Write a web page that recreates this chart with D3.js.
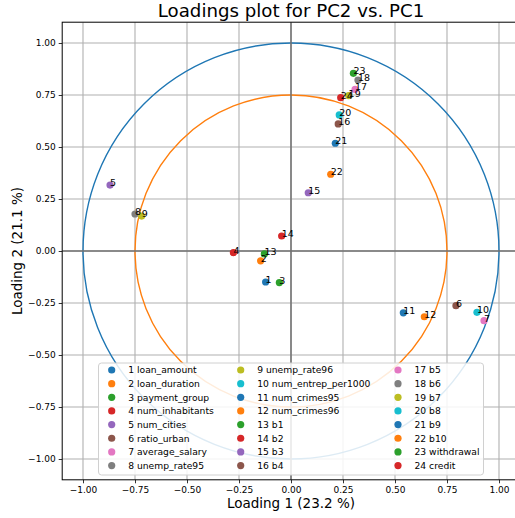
<!DOCTYPE html>
<html>
<head>
<meta charset="utf-8">
<script src="https://cdn.jsdelivr.net/npm/d3@7/dist/d3.min.js"></script>
<style>
  html, body { margin: 0; padding: 0; background: #fff; }
  svg { display: block; font-family: "DejaVu Sans", sans-serif; }
</style>
</head>
<body>
<svg id="chart" width="515" height="518"></svg>
<script>
// Variable names (legend order) and their loadings on PC1 / PC2
const variables = [
  "loan_amount", "loan_duration", "payment_group", "num_inhabitants",
  "num_cities", "ratio_urban", "average_salary", "unemp_rate95",
  "unemp_rate96", "num_entrep_per1000", "num_crimes95", "num_crimes96",
  "b1", "b2", "b3", "b4", "b5", "b6", "b7", "b8", "b9", "b10",
  "withdrawal", "credit"
];
const loading1 = [
  -0.122, -0.146, -0.056, -0.277, -0.870, 0.793, 0.928, -0.750,
  -0.718, 0.894, 0.540, 0.641, -0.128, -0.045, 0.083, 0.227,
  0.308, 0.322, 0.277, 0.232, 0.213, 0.191, 0.300, 0.239
];
const loading2 = [
  -0.149, -0.047, -0.152, -0.008, 0.317, -0.263, -0.335, 0.178,
  0.168, -0.295, -0.297, -0.316, -0.014, 0.072, 0.280, 0.611,
  0.777, 0.822, 0.747, 0.654, 0.518, 0.369, 0.854, 0.737
];
const circleRadii = [1.0, 0.75];
const circleColors = ["#1f77b4", "#ff7f0e"];
const tickValues = [-1, -0.75, -0.5, -0.25, 0, 0.25, 0.5, 0.75, 1];
const explained = { pc1: 23.2, pc2: 21.1 };

const palette = ["#1f77b4", "#ff7f0e", "#2ca02c", "#d62728", "#9467bd",
                 "#8c564b", "#e377c2", "#7f7f7f", "#bcbd22", "#17becf"];

const points = variables.map((name, i) => ({
  id: i + 1, name, x: loading1[i], y: loading2[i], color: palette[i % 10]
}));

const svg = d3.select("#chart");
const plotLeft = 62.2, plotTop = 22.2, plotW = 457.6, plotH = 457.6;

const x = d3.scaleLinear().domain([-1.1, 1.1]).range([plotLeft, plotLeft + plotW]);
const y = d3.scaleLinear().domain([-1.1, 1.1]).range([plotTop + plotH, plotTop]);

svg.append("defs").append("clipPath").attr("id", "plotclip")
  .append("rect").attr("x", plotLeft).attr("y", plotTop).attr("width", plotW).attr("height", plotH);

const fmt = v => d3.format(".2f")(v).replace("-", "\u2212");

// Grid
const grid = svg.append("g").attr("clip-path", "url(#plotclip)");
grid.selectAll("line.gx").data(tickValues).join("line")
  .attr("x1", d => x(d)).attr("x2", d => x(d))
  .attr("y1", plotTop).attr("y2", plotTop + plotH)
  .attr("stroke", "#b0b0b0").attr("stroke-width", 1.1);
grid.selectAll("line.gy").data(tickValues).join("line")
  .attr("y1", d => y(d)).attr("y2", d => y(d))
  .attr("x1", plotLeft).attr("x2", plotLeft + plotW)
  .attr("stroke", "#b0b0b0").attr("stroke-width", 1.1);

const plot = svg.append("g").attr("clip-path", "url(#plotclip)");

// Reference circles
plot.selectAll("circle.ref").data(circleRadii).join("circle")
  .attr("cx", x(0)).attr("cy", y(0))
  .attr("r", d => x(d) - x(0))
  .attr("fill", "none")
  .attr("stroke", (d, i) => circleColors[i])
  .attr("stroke-width", 1.4);

// Zero lines
plot.append("line").attr("x1", plotLeft).attr("x2", plotLeft + plotW)
  .attr("y1", y(0)).attr("y2", y(0))
  .attr("stroke", "#707070").attr("stroke-width", 1.5);
plot.append("line").attr("y1", plotTop).attr("y2", plotTop + plotH)
  .attr("x1", x(0)).attr("x2", x(0))
  .attr("stroke", "#707070").attr("stroke-width", 1.5);

// Loadings
plot.selectAll("circle.pt").data(points).join("circle")
  .attr("cx", d => x(d.x)).attr("cy", d => y(d.y))
  .attr("r", 3.6).attr("fill", d => d.color);

plot.selectAll("text.pt").data(points).join("text")
  .attr("x", d => x(d.x)).attr("y", d => y(d.y) + 1)
  .attr("font-size", 9.5).attr("fill", "#000")
  .text(d => d.id);

// Legend
const legX = 98.5, legY = 363, legW = 385, legH = 112;
const leg = svg.append("g").attr("clip-path", "url(#plotclip)");
leg.append("rect").attr("x", legX).attr("y", legY).attr("width", legW).attr("height", legH)
  .attr("rx", 3).attr("fill", "#fff").attr("fill-opacity", 0.85)
  .attr("stroke", "#d0d0d0").attr("stroke-width", 1);
const colX = [111.7, 240.7, 398];
const rowH = 13.65;
leg.selectAll("g.item").data(points).join("g")
  .attr("transform", (d, i) => `translate(${colX[Math.floor(i / 8)]},${370 + (i % 8) * rowH})`)
  .each(function (d) {
    const g = d3.select(this);
    g.append("circle").attr("r", 3.6).attr("fill", d.color);
    g.append("text").attr("x", 16.5).attr("y", 3.3)
      .attr("font-size", 9.2).attr("fill", "#000")
      .text(`${d.id} ${d.name}`);
  });

// Axes
const xAxis = d3.axisBottom(x).tickValues(tickValues).tickFormat(fmt).tickSizeOuter(0).tickSize(3.5).tickPadding(3);
const yAxis = d3.axisLeft(y).tickValues(tickValues).tickFormat(fmt).tickSizeOuter(0).tickSize(3.5).tickPadding(3);
const gx = svg.append("g").attr("transform", `translate(0,${plotTop + plotH})`).call(xAxis);
const gy = svg.append("g").attr("transform", `translate(${plotLeft},0)`).call(yAxis);
[gx, gy].forEach(g => {
  g.selectAll("text").attr("font-size", 9).attr("font-family", "DejaVu Sans").attr("fill", "#000");
  g.selectAll(".tick line").attr("stroke", "#000").attr("stroke-width", 0.8);
  g.select(".domain").remove();
});

// Spines
svg.append("rect").attr("x", plotLeft).attr("y", plotTop).attr("width", plotW).attr("height", plotH)
  .attr("fill", "none").attr("stroke", "#000").attr("stroke-width", 1);

// Titles
svg.append("text").attr("x", x(0)).attr("y", 17).attr("text-anchor", "middle")
  .attr("font-size", 18.2).text("Loadings plot for PC2 vs. PC1");
svg.append("text").attr("x", x(0)).attr("y", 508).attr("text-anchor", "middle")
  .attr("font-size", 13.5).text(`Loading 1 (${explained.pc1} %)`);
svg.append("text").attr("transform", `translate(22,${y(0)}) rotate(-90)`)
  .attr("text-anchor", "middle").attr("font-size", 13.5)
  .text(`Loading 2 (${explained.pc2} %)`);
</script>
</body>
</html>
